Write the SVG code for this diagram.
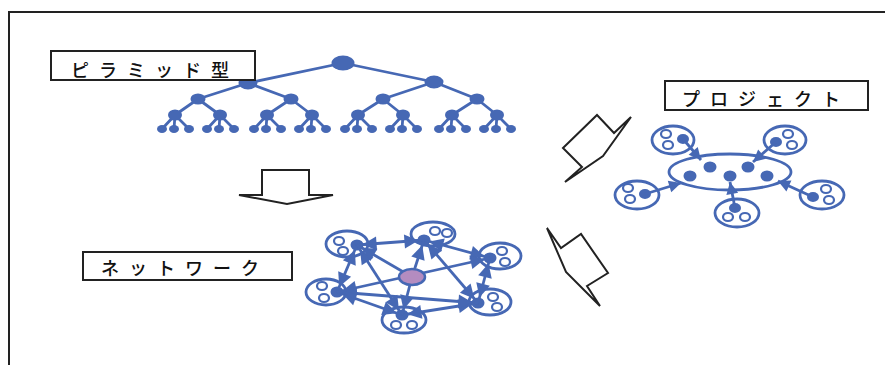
<svg xmlns="http://www.w3.org/2000/svg" width="885" height="365" viewBox="0 0 885 365">
<style>
.frame{fill:none;stroke:#222;stroke-width:2}
.box{fill:#fff;stroke:#222;stroke-width:2}
.lbl{font-family:"Noto Sans CJK JP","Noto Sans",sans-serif;font-size:18px;font-weight:500;fill:#111;letter-spacing:10px}
.tl{stroke:#4668b4;stroke-width:2.8;fill:none}
.nd{fill:#4668b4}
.ring{fill:#fff;stroke:#4668b4;stroke-width:2.8}
.hole{fill:#fff;stroke:#4668b4;stroke-width:2.2}
.blk{fill:#fff;stroke:#222;stroke-width:2;stroke-linejoin:miter}
.dbl{stroke:#4668b4;stroke-width:2.8;fill:none;marker-start:url(#ah2);marker-end:url(#ah2)}
.one{stroke:#4668b4;stroke-width:2.8;fill:none;marker-end:url(#ah2)}
.pa{stroke:#4668b4;stroke-width:2.8;fill:none;marker-end:url(#ah)}
</style>
<defs>
<marker id="ah" viewBox="0 0 10 10" markerUnits="userSpaceOnUse" markerWidth="13" markerHeight="12" refX="10" refY="5" orient="auto-start-reverse" overflow="visible"><path d="M0,0L10,5L0,10z" fill="#4668b4"/></marker>
<marker id="ah2" viewBox="0 0 10 10" markerUnits="userSpaceOnUse" markerWidth="15" markerHeight="14" refX="14" refY="5" orient="auto-start-reverse" overflow="visible"><path d="M0,0L10,5L0,10z" fill="#4668b4"/></marker>
</defs>
<rect width="885" height="365" fill="#fff"/>
<path class="frame" d="M9,365V12H885"/>

<g id="pyramid">
<g class="tl">
<path d="M343,63L248,83M343,63L434,82"/>
<path d="M248,83L198,99M248,83L291,99M434,82L383,99M434,82L477,99"/>
<path d="M198,99L175,115M198,99L220,115M291,99L267,115M291,99L312,115M383,99L358,115M383,99L403,115M477,99L452,115M477,99L497,115"/>
<path d="M175,115l-13,14M175,115l-1,14M175,115l14,14M220,115l-13,14M220,115l-1,14M220,115l14,14M267,115l-13,14M267,115l-1,14M267,115l14,14M312,115l-13,14M312,115l-1,14M312,115l14,14M358,115l-13,14M358,115l-1,14M358,115l14,14M403,115l-13,14M403,115l-1,14M403,115l14,14M452,115l-13,14M452,115l-1,14M452,115l14,14M497,115l-13,14M497,115l-1,14M497,115l14,14"/>
</g>
<g class="nd">
<ellipse cx="343" cy="63" rx="11.5" ry="7.5"/>
<ellipse cx="248" cy="83" rx="9.5" ry="6.5"/><ellipse cx="434" cy="82" rx="9.5" ry="6.5"/>
<ellipse cx="198" cy="99" rx="7.5" ry="5.5"/><ellipse cx="291" cy="99" rx="7.5" ry="5.5"/><ellipse cx="383" cy="99" rx="7.5" ry="5.5"/><ellipse cx="477" cy="99" rx="7.5" ry="5.5"/>
<ellipse cx="175" cy="115" rx="7" ry="5.5"/><ellipse cx="220" cy="115" rx="7" ry="5.5"/><ellipse cx="267" cy="115" rx="7" ry="5.5"/><ellipse cx="312" cy="115" rx="7" ry="5.5"/><ellipse cx="358" cy="115" rx="7" ry="5.5"/><ellipse cx="403" cy="115" rx="7" ry="5.5"/><ellipse cx="452" cy="115" rx="7" ry="5.5"/><ellipse cx="497" cy="115" rx="7" ry="5.5"/>
<g>
<ellipse cx="162" cy="129" rx="5" ry="4"/><ellipse cx="174" cy="129" rx="5" ry="4"/><ellipse cx="189" cy="129" rx="5" ry="4"/>
<ellipse cx="207" cy="129" rx="5" ry="4"/><ellipse cx="219" cy="129" rx="5" ry="4"/><ellipse cx="234" cy="129" rx="5" ry="4"/>
<ellipse cx="254" cy="129" rx="5" ry="4"/><ellipse cx="266" cy="129" rx="5" ry="4"/><ellipse cx="281" cy="129" rx="5" ry="4"/>
<ellipse cx="299" cy="129" rx="5" ry="4"/><ellipse cx="311" cy="129" rx="5" ry="4"/><ellipse cx="326" cy="129" rx="5" ry="4"/>
<ellipse cx="345" cy="129" rx="5" ry="4"/><ellipse cx="357" cy="129" rx="5" ry="4"/><ellipse cx="372" cy="129" rx="5" ry="4"/>
<ellipse cx="390" cy="129" rx="5" ry="4"/><ellipse cx="402" cy="129" rx="5" ry="4"/><ellipse cx="417" cy="129" rx="5" ry="4"/>
<ellipse cx="439" cy="129" rx="5" ry="4"/><ellipse cx="451" cy="129" rx="5" ry="4"/><ellipse cx="466" cy="129" rx="5" ry="4"/>
<ellipse cx="484" cy="129" rx="5" ry="4"/><ellipse cx="496" cy="129" rx="5" ry="4"/><ellipse cx="511" cy="129" rx="5" ry="4"/>
</g>
</g>
</g>

<g id="label-pyramid">
<rect class="box" x="51" y="51" width="204" height="29"/>
<text class="lbl" x="71" y="77">ピラミッド型</text>
</g>

<g id="label-project">
<rect class="box" x="665" y="81" width="203" height="29"/>
<text class="lbl" x="682" y="106">プロジェクト</text>
</g>

<g id="label-network">
<rect class="box" x="83" y="252" width="209" height="28"/>
<text class="lbl" x="101" y="275">ネットワーク</text>
</g>

<g id="arrow-down">
<polygon class="blk" points="262,170 309,170 309,195 333,195 287,204 239,195 262,195"/>
</g>
<g id="arrow-upper">
<polygon class="blk" points="563,148 597,115 614,133 631,117 603,156 565,182 582,167"/>
</g>
<g id="arrow-lower">
<polygon class="blk" points="547,228 561,248 581,234 608,273 587,286 600,306 566,272"/>
</g>

<g id="project">
<ellipse class="ring" cx="730" cy="172" rx="61" ry="18"/>
<g class="nd">
<ellipse cx="710" cy="167" rx="6.5" ry="5.5"/><ellipse cx="748" cy="167" rx="6.5" ry="5.5"/>
<ellipse cx="690" cy="176" rx="6.5" ry="5.5"/><ellipse cx="730" cy="176" rx="6.5" ry="5.5"/><ellipse cx="767" cy="176" rx="6.5" ry="5.5"/>
</g>
<g id="p-tl"><ellipse class="ring" cx="673" cy="140" rx="21" ry="14"/><ellipse class="hole" cx="666" cy="134" rx="5" ry="4"/><ellipse class="hole" cx="668" cy="145" rx="5" ry="4"/><ellipse class="nd" cx="683" cy="139" rx="6" ry="5"/></g>
<g id="p-tr"><ellipse class="ring" cx="785" cy="140" rx="21" ry="14"/><ellipse class="hole" cx="788" cy="134" rx="5" ry="4"/><ellipse class="hole" cx="792" cy="145" rx="5" ry="4"/><ellipse class="nd" cx="776" cy="142" rx="6" ry="5"/></g>
<g id="p-l"><ellipse class="ring" cx="637" cy="195" rx="22" ry="14"/><ellipse class="hole" cx="628" cy="188" rx="5" ry="4"/><ellipse class="hole" cx="630" cy="199" rx="5" ry="4"/><ellipse class="nd" cx="645" cy="194" rx="6" ry="5"/></g>
<g id="p-b"><ellipse class="ring" cx="737" cy="213" rx="22" ry="14"/><ellipse class="hole" cx="728" cy="217" rx="5" ry="4"/><ellipse class="hole" cx="745" cy="217" rx="5" ry="4"/><ellipse class="nd" cx="735" cy="208" rx="6" ry="5"/></g>
<g id="p-r"><ellipse class="ring" cx="822" cy="195" rx="22" ry="14"/><ellipse class="hole" cx="826" cy="189" rx="5" ry="4"/><ellipse class="hole" cx="829" cy="200" rx="5" ry="4"/><ellipse class="nd" cx="813" cy="197" rx="6" ry="5"/></g>
<g id="p-connectors">
<path class="pa" d="M683,139L701,160"/>
<path class="pa" d="M776,142L753,162"/>
<path class="pa" d="M645,194L681,183"/>
<path class="pa" d="M735,208L730,182"/>
<path class="pa" d="M813,197L778,181"/>
</g>
</g>

<g id="network">
<g id="n-tl"><ellipse class="ring" cx="347" cy="244" rx="21" ry="13"/><ellipse class="hole" cx="339" cy="241" rx="5" ry="4"/><ellipse class="hole" cx="343" cy="251" rx="5" ry="4"/><ellipse class="nd" cx="357" cy="245" rx="6.5" ry="5.5"/></g>
<g id="n-tm"><ellipse class="ring" cx="433" cy="234" rx="22" ry="12"/><ellipse class="hole" cx="435" cy="231" rx="5" ry="4"/><ellipse class="hole" cx="447" cy="233" rx="5" ry="4"/><ellipse class="nd" cx="424" cy="240" rx="6.5" ry="5.5"/></g>
<g id="n-rt"><ellipse class="ring" cx="500" cy="256" rx="21" ry="13"/><ellipse class="hole" cx="502" cy="251" rx="5" ry="4"/><ellipse class="hole" cx="505" cy="262" rx="5" ry="4"/><ellipse class="nd" cx="490" cy="258" rx="6.5" ry="5.5"/></g>
<g id="n-l"><ellipse class="ring" cx="326" cy="292" rx="20" ry="13"/><ellipse class="hole" cx="322" cy="286" rx="5" ry="4"/><ellipse class="hole" cx="324" cy="298" rx="5" ry="4"/><ellipse class="nd" cx="337" cy="292" rx="6.5" ry="5.5"/></g>
<g id="n-br"><ellipse class="ring" cx="490" cy="302" rx="21" ry="13"/><ellipse class="hole" cx="493" cy="297" rx="5" ry="4"/><ellipse class="hole" cx="497" cy="307" rx="5" ry="4"/><ellipse class="nd" cx="478" cy="303" rx="6.5" ry="5.5"/></g>
<g id="n-b"><ellipse class="ring" cx="404" cy="320" rx="22" ry="13"/><ellipse class="hole" cx="396" cy="325" rx="5" ry="4"/><ellipse class="hole" cx="412" cy="325" rx="5" ry="4"/><ellipse class="nd" cx="402" cy="315" rx="6.5" ry="5.5"/></g>
<g id="n-connectors">
<path class="dbl" d="M357,245L424,240"/>
<path class="dbl" d="M424,240L490,258"/>
<path class="dbl" d="M490,258L478,303"/>
<path class="dbl" d="M478,303L402,315"/>
<path class="dbl" d="M402,315L337,292"/>
<path class="dbl" d="M337,292L357,245"/>
<path class="dbl" d="M357,245L402,315"/>
<path class="dbl" d="M424,240L478,303"/>
<path class="dbl" d="M337,292L478,303"/>
<path class="dbl" d="M337,292L490,258"/>
<path class="one" d="M412,277L357,245"/>
<path class="one" d="M412,277L424,240"/>
<path class="one" d="M412,277L402,315"/>
</g>
<g id="n-center"><ellipse cx="412" cy="277" rx="13" ry="8" fill="#b48cc0" stroke="#4668b4" stroke-width="2.5"/></g>
</g>
</svg>
